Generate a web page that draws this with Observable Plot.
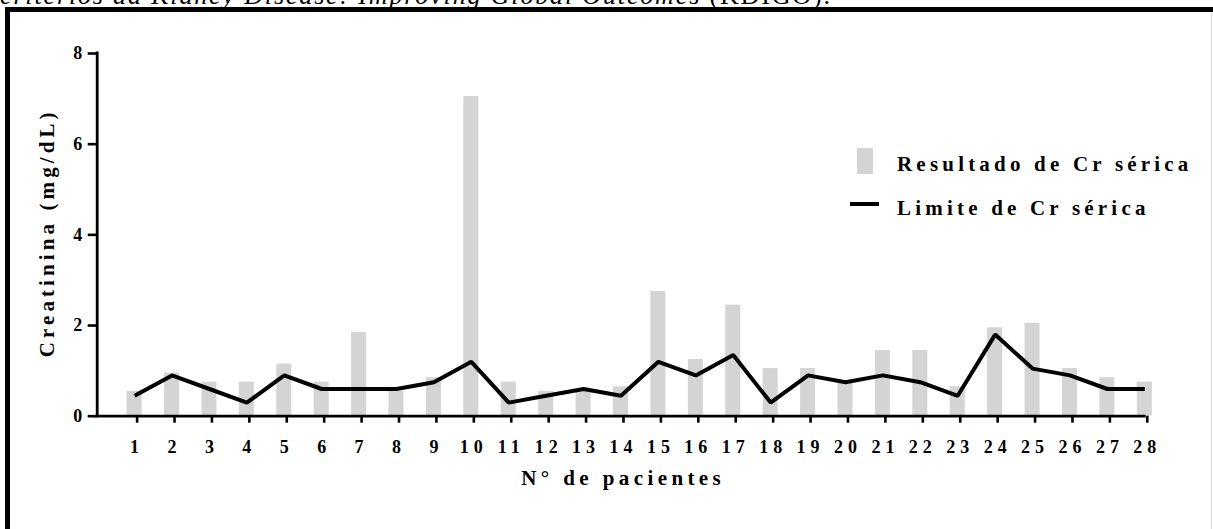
<!DOCTYPE html>
<html>
<head>
<meta charset="utf-8">
<script src="https://cdn.jsdelivr.net/npm/d3@7"></script>
<script src="https://cdn.jsdelivr.net/npm/@observablehq/plot@0.6"></script>
<style>
  html, body { margin: 0; padding: 0; background: white; }
  body { width: 1213px; height: 529px; overflow: hidden; position: relative; font-family: "Liberation Serif", "Times New Roman", serif; }
  #frame { position: absolute; left: 5px; top: 7px; width: 1400px; height: 700px; border: 5px solid black; box-sizing: border-box; }
  #rightline { position: absolute; left: 1211px; top: 12px; width: 1px; height: 600px; background: #dcdcdc; }
  #caption { position: absolute; left: 0; top: 0; overflow: visible; }
  #chart { position: absolute; left: 0; top: 0; }
  .leg { position: absolute; font-family: "Liberation Serif", "Times New Roman", serif; font-weight: bold; font-size: 21px; letter-spacing: 4.2px; color: black; line-height: 1; white-space: nowrap; }
</style>
</head>
<body>
<svg id="caption" width="1213" height="12"><text x="0" y="3.5" font-family="Liberation Serif, Times New Roman, serif" font-size="26" textLength="830" lengthAdjust="spacing"><tspan font-style="italic">critérios da Kidney Disease: Improving Global Outcomes</tspan> (KDIGO).</text></svg>
<div id="frame"></div>
<div id="rightline"></div>
<div id="chart"></div>
<div id="legend"></div>
<script>
// ---- data ----
const patients = [1,2,3,4,5,6,7,8,9,10,11,12,13,14,15,16,17,18,19,20,21,22,23,24,25,26,27,28];
const patientLabels = ["1","2","3","4","5","6","7","8","9","10","11","12","13","14","15","16","17","18","19","20","21","22","23","24","25","26","27","28"];
const resultado = [0.55,0.95,0.75,0.75,1.15,0.75,1.85,0.55,0.85,7.05,0.75,0.55,0.55,0.65,2.75,1.25,2.45,1.05,1.05,0.75,1.45,1.45,0.65,1.95,2.05,1.05,0.85,0.75];
const limite = [0.45,0.9,0.6,0.3,0.9,0.6,0.6,0.6,0.75,1.2,0.3,0.45,0.6,0.45,1.2,0.9,1.35,0.3,0.9,0.75,0.9,0.75,0.45,1.8,1.05,0.9,0.6,0.6];
const yTicks = [0,2,4,6,8];
const yLabel = "Creatinina (mg/dL)";
const xLabel = "N° de pacientes";
const seriesNames = ["Resultado de Cr sérica", "Limite de Cr sérica"];

const data = patients.map((n, i) => ({n, r: resultado[i], l: limite[i]}));
const TL = 5;     // tick letter spacing
const XLL = 4.4;  // x label letter spacing
const YLL = 4.1;  // y label letter spacing

const plot = Plot.plot({
  width: 1213,
  height: 529,
  marginLeft: 96.7,
  marginRight: 68.7,
  marginTop: 53,
  marginBottom: 113.3,
  style: {fontFamily: "'Liberation Serif', 'Times New Roman', serif", fontWeight: "bold", fontSize: "18px", letterSpacing: TL + "px", color: "black", background: "transparent"},
  x: {type: "linear", domain: [0, 28]},
  y: {domain: [0, 8]},
  marks: [
    Plot.rectY(data, {x1: d => d.n - 0.5, x2: d => d.n + 0.5, y: "r", fill: "#d4d4d4", insetLeft: 11.2, insetRight: 11.2}),
    Plot.lineY(data, {x: "n", y: "l", stroke: "black", strokeWidth: 4, strokeLinejoin: "miter", strokeLinecap: "butt"}),
    Plot.ruleX([0], {y1: 0, y2: 8, stroke: "black", strokeWidth: 2.8, strokeLinecap: "square"}),
    Plot.ruleY([0], {x1: 0, x2: 28, stroke: "black", strokeWidth: 2.8, strokeLinecap: "square"}),
    Plot.axisY({ticks: yTicks, tickSize: 9, tickPadding: 1, strokeWidth: 2.6, label: null, fontSize: 18, fontWeight: "bold", tickFormat: d => String(d)}),
    Plot.axisX({ticks: patients, tickSize: 7, tickPadding: 17, strokeWidth: 2.6, label: null, fontSize: 18, fontWeight: "bold", tickFormat: d => patientLabels[d - 1], dx: TL / 2}),
    Plot.text([xLabel], {frameAnchor: "bottom", textAnchor: "middle", lineAnchor: "middle", dy: 62.3, dx: XLL / 2, fontSize: 21, text: d => d}),
    Plot.text([yLabel], {frameAnchor: "left", textAnchor: "middle", lineAnchor: "middle", rotate: -90, dx: -49.7, dy: -YLL / 2, fontSize: 21, text: d => d})
  ]
});
d3.select(plot).selectAll("text").filter(function() { return this.textContent === xLabel; }).style("letter-spacing", XLL + "px");
d3.select(plot).selectAll("text").filter(function() { return this.textContent === yLabel; }).style("letter-spacing", YLL + "px");
document.getElementById("chart").appendChild(plot);

// legend
const legend = document.getElementById("legend");
const swatch = document.createElement("div");
swatch.style.cssText = "position:absolute;left:857px;top:148px;width:15.5px;height:26px;background:#d4d4d4;";
legend.appendChild(swatch);
const lineSw = document.createElement("div");
lineSw.style.cssText = "position:absolute;left:850px;top:201.5px;width:29px;height:4px;background:black;";
legend.appendChild(lineSw);
const t1 = document.createElement("div");
t1.className = "leg"; t1.textContent = seriesNames[0];
t1.style.left = "897px"; t1.style.top = "153.8px";
legend.appendChild(t1);
const t2 = document.createElement("div");
t2.className = "leg"; t2.textContent = seriesNames[1];
t2.style.left = "897px"; t2.style.top = "198.3px";
legend.appendChild(t2);
</script>
</body>
</html>
